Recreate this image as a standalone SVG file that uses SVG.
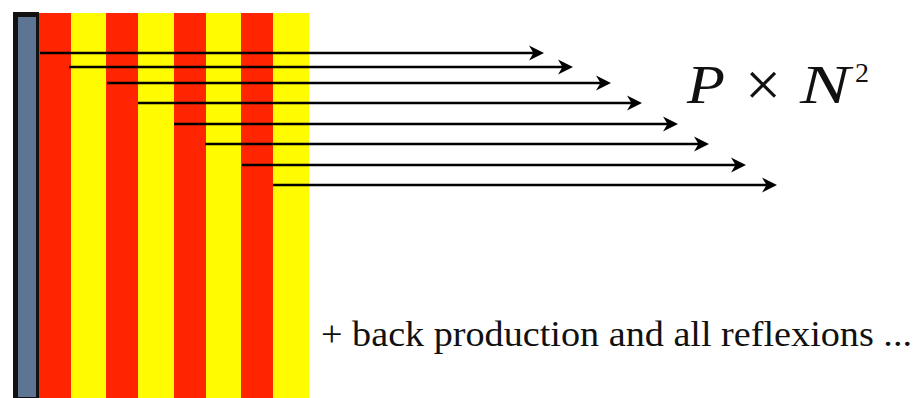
<svg xmlns="http://www.w3.org/2000/svg" width="917" height="398" viewBox="0 0 917 398">
  <style>
    .red { fill: #ff2500; }
    .yel { fill: #fffb00; }
    .ray { stroke: #000; stroke-width: 2.4; fill: none; marker-end: url(#head); }
    .math { font-family: 'Liberation Serif', 'Times New Roman', serif; fill: #111; }
    .note { font-family: 'Liberation Serif', 'Times New Roman', serif; font-size: 35px; fill: #111; }
  </style>
  <defs>
    <marker id="head" markerUnits="userSpaceOnUse" viewBox="-16 -8 17 16" refX="-10" refY="0" markerWidth="17" markerHeight="16" orient="auto">
      <path d="M0,0 L-15,-7.5 L-10.5,0 L-15,7.5 Z" fill="#000"/>
    </marker>
  </defs>

  <!-- back plate -->
  <g id="plate">
    <rect x="13" y="12" width="26" height="386" fill="#111"/>
    <rect x="18" y="17" width="18" height="380" fill="#5d7592"/>
  </g>

  <!-- alternating layers -->
  <g id="layers">
    <rect class="red" x="39" y="13" width="32" height="385"/>
    <rect class="yel" x="71" y="13" width="35" height="385"/>
    <rect class="red" x="106" y="13" width="32" height="385"/>
    <rect class="yel" x="138" y="13" width="36" height="385"/>
    <rect class="red" x="174" y="13" width="32" height="385"/>
    <rect class="yel" x="206" y="13" width="35" height="385"/>
    <rect class="red" x="241" y="13" width="32" height="385"/>
    <rect class="yel" x="273" y="13" width="36" height="385"/>
  </g>

  <!-- emitted rays -->
  <g id="connectors">
    <line class="ray" x1="40" y1="53" x2="534" y2="53"/>
    <line class="ray" x1="69" y1="67" x2="563" y2="67"/>
    <line class="ray" x1="107" y1="83" x2="601" y2="83"/>
    <line class="ray" x1="138" y1="103" x2="632" y2="103"/>
    <line class="ray" x1="174" y1="124" x2="668" y2="124"/>
    <line class="ray" x1="205" y1="144" x2="699" y2="144"/>
    <line class="ray" x1="242" y1="165" x2="736" y2="165"/>
    <line class="ray" x1="273" y1="185" x2="767" y2="185"/>
  </g>

  <!-- total yield -->
  <g id="formula" class="math">
    <text x="687" y="103" font-size="54" font-style="italic" textLength="38" lengthAdjust="spacingAndGlyphs">P</text>
    <text x="745" y="106" font-size="64">×</text>
    <text x="800" y="103" font-size="54" font-style="italic" textLength="50" lengthAdjust="spacingAndGlyphs">N</text>
    <text x="855" y="82" font-size="28">2</text>
  </g>

  <g id="note">
    <text class="note" x="321" y="346" textLength="591" lengthAdjust="spacingAndGlyphs">+ back production and all reflexions ...</text>
  </g>
</svg>
